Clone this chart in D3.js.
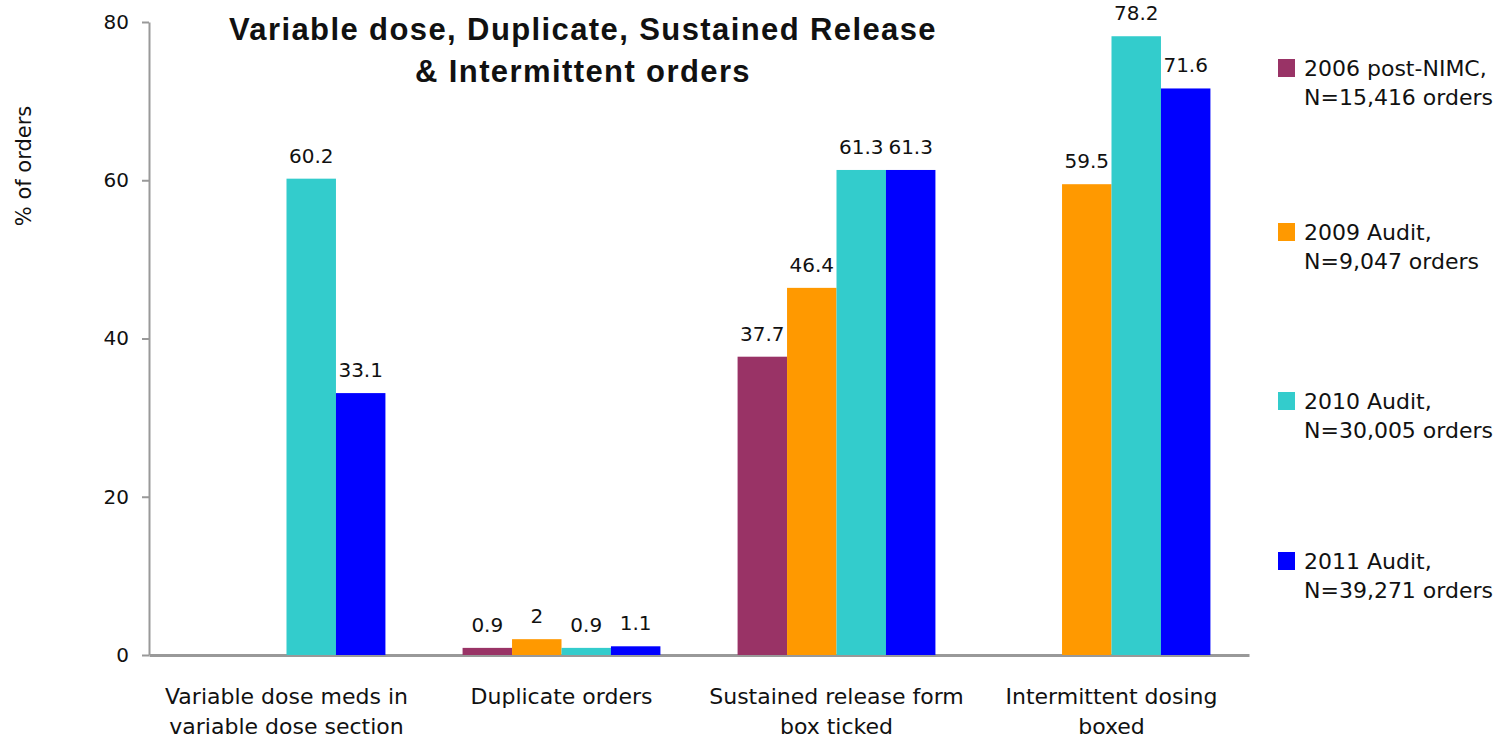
<!DOCTYPE html>
<html>
<head>
<meta charset="utf-8">
<script src="https://cdn.jsdelivr.net/npm/d3@7"></script>
<style>
  body { margin: 0; background: #fff; }
  svg text { font-family: "DejaVu Sans", Verdana, sans-serif; fill: #111; }
</style>
</head>
<body>
<div id="chart-area"></div>
<script>
// data
var categories = [
  ["Variable dose meds in", "variable dose section"],
  ["Duplicate orders"],
  ["Sustained release form", "box ticked"],
  ["Intermittent dosing", "boxed"]
];
var seriesNames = [
  ["2006 post-NIMC,", "N=15,416 orders"],
  ["2009 Audit,", "N=9,047 orders"],
  ["2010 Audit,", "N=30,005 orders"],
  ["2011 Audit,", "N=39,271 orders"]
];
var seriesColors = ["#993366", "#FF9900", "#33CCCC", "#0000FF"];
// null = no bar for that audit
var s2006 = [null, 0.9, 37.7, null];
var s2009 = [null, 2, 46.4, 59.5];
var s2010 = [60.2, 0.9, 61.3, 78.2];
var s2011 = [33.1, 1.1, 61.3, 71.6];
var yTicks = [0, 20, 40, 60, 80];

var allSeries = [s2006, s2009, s2010, s2011];

var W = 1501, H = 741;
var svg = d3.select("#chart-area").append("svg")
    .attr("width", W)
    .attr("height", H);

var plotLeft = 149, plotRight = 1249, plotTop = 22, plotBottom = 655;

// scales
var x0 = d3.scaleBand()
    .domain(d3.range(categories.length))
    .range([plotLeft, plotRight])
    .padding(0);
var x1 = d3.scaleBand()
    .domain(d3.range(allSeries.length))
    .range([0, x0.bandwidth()])
    .paddingInner(0)
    .paddingOuter(0.78);
var y = d3.scaleLinear()
    .domain([0, 80])
    .range([plotBottom, plotTop]);

// y axis
var yAxis = svg.append("g")
    .attr("transform", "translate(" + plotLeft + ",0)")
    .call(d3.axisLeft(y).tickValues(yTicks).tickSize(7).tickPadding(13).tickSizeOuter(0));
yAxis.select(".domain").attr("stroke", "#999").attr("stroke-width", 2);
yAxis.selectAll(".tick line").attr("stroke", "#999").attr("stroke-width", 2);
yAxis.selectAll(".tick text")
    .attr("font-size", "20px")
    .attr("font-family", "DejaVu Sans, Verdana, sans-serif")
    .attr("fill", "#111");

// x axis line
var xAxis = svg.append("g")
    .attr("transform", "translate(0," + plotBottom + ")")
    .call(d3.axisBottom(x0).tickSize(0).tickFormat(""));
xAxis.select(".domain").attr("stroke", "#999").attr("stroke-width", 3);

// category labels
categories.forEach(function(lines, i){
  var t = svg.append("text")
      .attr("x", x0(i) + x0.bandwidth() / 2)
      .attr("y", 704)
      .attr("text-anchor", "middle")
      .attr("font-size", "22px");
  lines.forEach(function(l, j){
    t.append("tspan")
      .attr("x", x0(i) + x0.bandwidth() / 2)
      .attr("dy", j == 0 ? 0 : 30)
      .text(l);
  });
});

// bars
allSeries.forEach(function(vals, s){
  var g = svg.append("g");
  var d = vals.map(function(v, i){ return {cat: i, v: v}; })
      .filter(function(e){ return e.v !== null; });
  g.selectAll("rect")
    .data(d)
    .enter().append("rect")
      .attr("x", function(e){ return x0(e.cat) + x1(s); })
      .attr("width", x1.bandwidth())
      .attr("y", function(e){ return y(e.v); })
      .attr("height", function(e){ return y(0) - y(e.v); })
      .attr("fill", seriesColors[s]);
  g.selectAll("text")
    .data(d)
    .enter().append("text")
      .attr("x", function(e){ return x0(e.cat) + x1(s) + x1.bandwidth() / 2; })
      .attr("y", function(e){ return y(e.v) - 16; })
      .attr("text-anchor", "middle")
      .attr("font-size", "20px")
      .text(function(e){ return e.v; });
});

// title
var title = svg.append("text")
    .attr("x", 583)
    .attr("y", 40)
    .attr("text-anchor", "middle")
    .attr("font-size", "31px")
    .attr("font-weight", "bold")
    .attr("letter-spacing", "1.4px")
    .style("font-family", "'Liberation Sans', Arial, sans-serif");
title.append("tspan").attr("x", 583).attr("dy", 0)
    .text("Variable dose, Duplicate, Sustained Release");
title.append("tspan").attr("x", 583).attr("dy", 42)
    .text("& Intermittent orders");

// y axis title
svg.append("text")
    .attr("transform", "translate(31,166) rotate(-90)")
    .attr("text-anchor", "middle")
    .attr("font-size", "21px")
    .text("% of orders");

// legend
var legend = svg.append("g")
    .attr("transform", "translate(1278,0)");
var legendY = [59, 223, 392, 552];
seriesNames.forEach(function(name, i){
  var row = legend.append("g")
      .attr("transform", "translate(0," + legendY[i] + ")");
  row.append("rect")
    .attr("width", 17)
    .attr("height", 18)
    .attr("fill", seriesColors[i]);
  var t = row.append("text")
    .attr("x", 26)
    .attr("y", 17)
    .attr("font-size", "22px");
  name.forEach(function(l, j){
    t.append("tspan").attr("x", 26).attr("dy", j == 0 ? 0 : 29).text(l);
  });
});
</script>
</body>
</html>
